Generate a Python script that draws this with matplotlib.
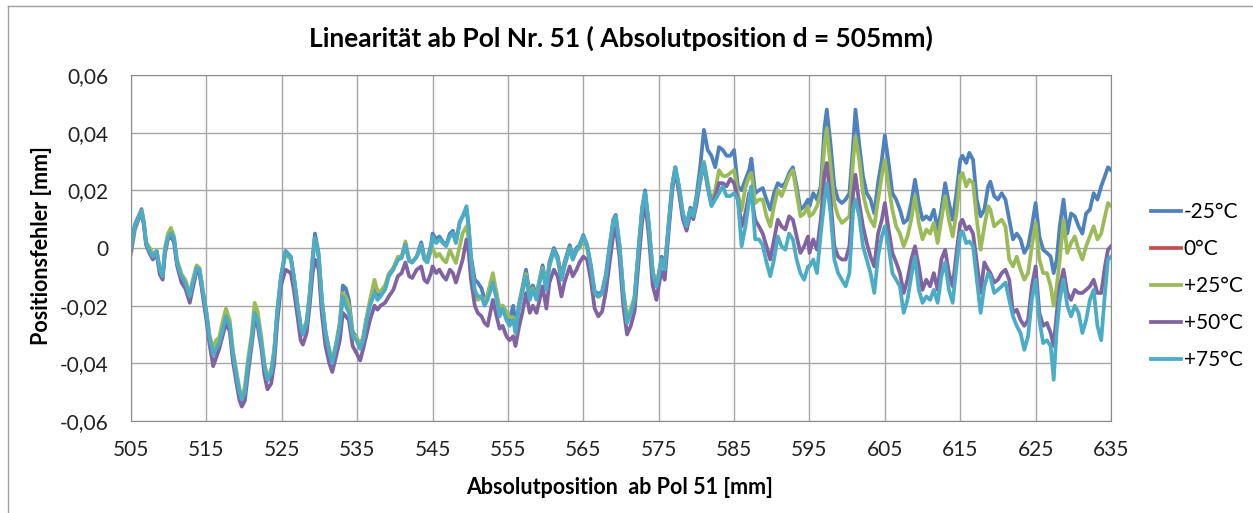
import matplotlib
matplotlib.use('Agg')
import matplotlib.pyplot as plt
from matplotlib.ticker import FuncFormatter, MultipleLocator
from matplotlib.lines import Line2D

plt.rcParams['font.family'] = ['Lato', 'DejaVu Sans']

# position along the scale [mm]
pos = [505.0, 505.5, 506.0, 506.4, 506.7, 507.0, 507.5, 507.9, 508.4, 508.8,
       509.2, 509.5, 509.9, 510.3, 510.7, 511.1, 511.7, 512.2, 512.8, 513.2,
       513.7, 514.1, 514.5, 515.0, 515.4, 515.9, 516.3, 516.7, 517.2, 517.6,
       518.1, 518.5, 519.0, 519.4, 519.7, 520.1, 520.5, 521.0, 521.4, 521.8,
       522.3, 522.7, 523.1, 523.6, 524.0, 524.4, 524.9, 525.5, 526.2, 526.6,
       527.1, 527.5, 527.8, 528.3, 528.7, 529.1, 529.4, 529.9, 530.3, 530.8,
       531.3, 531.7, 532.2, 532.7, 533.1, 533.5, 533.9, 534.4, 534.9, 535.4,
       535.8, 536.2, 536.7, 537.3, 537.7, 538.1, 538.7, 539.2, 539.8, 540.4,
       540.9, 541.4, 541.9, 542.3, 542.9, 543.5, 543.9, 544.3, 544.8, 545.0,
       545.5, 545.9, 546.4, 546.8, 547.3, 547.7, 548.1, 548.6, 549.0, 549.5,
       549.8, 550.1, 550.6, 551.0, 551.5, 551.9, 552.3, 553.0, 553.5, 553.9,
       554.3, 554.8, 555.2, 555.7, 556.0, 556.5, 556.9, 557.4, 557.9, 558.3,
       558.8, 559.2, 559.6, 560.1, 560.5, 561.1, 561.6, 562.1, 562.5, 563.2,
       563.6, 564.1, 564.5, 565.0, 565.5, 566.0, 566.5, 567.0, 567.5, 568.0,
       568.5, 569.0, 569.3, 569.8, 570.3, 570.8, 571.3, 571.8, 572.3, 572.8,
       573.2, 573.7, 574.2, 574.7, 575.0, 575.4, 575.8, 576.3, 576.8, 577.2,
       577.7, 578.2, 578.7, 579.2, 579.6, 580.0, 580.5, 581.0, 581.5, 582.0,
       582.5, 583.0, 583.5, 584.0, 584.5, 585.0, 585.5, 586.0, 586.5, 587.0,
       587.3, 587.8, 588.3, 588.8, 589.3, 589.8, 590.3, 590.8, 591.3, 591.8,
       592.3, 592.8, 593.3, 593.8, 594.3, 594.8, 595.0, 595.5, 596.0, 596.5,
       597.0, 597.3, 597.8, 598.3, 598.8, 599.3, 599.8, 600.3, 600.8, 601.1,
       601.6, 602.1, 602.6, 603.1, 603.6, 604.1, 604.6, 605.0, 605.5, 606.0,
       606.5, 607.0, 607.5, 608.0, 608.5, 609.0, 609.5, 610.0, 610.5, 611.0,
       611.5, 612.0, 612.5, 613.0, 613.5, 614.0, 614.5, 615.0, 615.3, 615.8,
       616.2, 616.7, 617.2, 617.7, 618.2, 618.7, 619.0, 619.5, 620.0, 620.5,
       621.0, 621.5, 622.0, 622.5, 623.0, 623.5, 624.0, 624.5, 625.0, 625.5,
       626.0, 626.5, 627.0, 627.4, 627.8, 628.2, 628.7, 629.2, 629.7, 630.2,
       630.7, 631.2, 631.7, 632.2, 632.7, 633.2, 633.7, 634.2, 634.6, 635.0]

err_m25 = [0.000, 0.008, 0.011, 0.0135, 0.009, 0.002, -0.001, -0.003, -0.001, -0.007,
           -0.010, -0.001, 0.004, 0.005, 0.003, -0.005, -0.010, -0.012, -0.017, -0.012,
           -0.007, -0.008, -0.015, -0.023, -0.031, -0.037, -0.035, -0.033, -0.028, -0.024,
           -0.027, -0.036, -0.045, -0.050, -0.053, -0.050, -0.041, -0.032, -0.023, -0.025,
           -0.033, -0.041, -0.046, -0.043, -0.036, -0.022, -0.010, -0.001, -0.003, -0.010,
           -0.020, -0.027, -0.030, -0.026, -0.016, -0.003, 0.005, -0.002, -0.017, -0.029,
           -0.036, -0.040, -0.034, -0.026, -0.013, -0.014, -0.018, -0.029, -0.031, -0.034,
           -0.031, -0.025, -0.019, -0.014, -0.017, -0.016, -0.014, -0.009, -0.007, -0.004,
           -0.003, 0.001, -0.004, -0.005, -0.003, 0.002, -0.003, -0.004, 0.001, 0.005,
           0.003, 0.004, 0.002, 0.001, 0.005, 0.006, 0.002, 0.009, 0.011, 0.0135,
           0.007, -0.003, -0.011, -0.012, -0.014, -0.018, -0.017, -0.010, -0.016, -0.022,
           -0.020, -0.023, -0.025, -0.020, -0.027, -0.019, -0.014, -0.0075, -0.016, -0.013,
           -0.016, -0.011, -0.006, -0.013, -0.005, 0.000, -0.003, -0.010, -0.005, 0.001,
           -0.003, 0.000, 0.001, 0.0045, 0.001, -0.006, -0.015, -0.016, -0.015, -0.009,
           0.001, 0.010, 0.0115, 0.001, -0.015, -0.025, -0.022, -0.017, -0.001, 0.014,
           0.020, 0.008, -0.008, -0.013, -0.009, -0.003, -0.007, 0.008, 0.022, 0.028,
           0.021, 0.012, 0.008, 0.014, 0.012, 0.018, 0.028, 0.041, 0.034, 0.032,
           0.028, 0.035, 0.034, 0.032, 0.032, 0.034, 0.0214, 0.020, 0.0237, 0.027,
           0.031, 0.019, 0.020, 0.0208, 0.0168, 0.0133, 0.019, 0.0225, 0.0214, 0.0225,
           0.026, 0.028, 0.0214, 0.0133, 0.0145, 0.0168, 0.0145, 0.019, 0.0168, 0.0214,
           0.042, 0.048, 0.036, 0.0214, 0.0168, 0.0156, 0.0168, 0.019, 0.036, 0.048,
           0.036, 0.0249, 0.019, 0.0168, 0.012, 0.0225, 0.0306, 0.039, 0.0295, 0.019,
           0.0168, 0.0133, 0.0087, 0.0098, 0.0156, 0.0237, 0.0156, 0.0098, 0.011, 0.0098,
           0.0133, 0.0064, 0.0133, 0.0225, 0.0156, 0.0098, 0.019, 0.0306, 0.032, 0.0295,
           0.033, 0.0306, 0.0168, 0.011, 0.0133, 0.0214, 0.023, 0.018, 0.0168, 0.019,
           0.0168, 0.0098, 0.003, 0.005, 0.003, -0.0017, 0.0006, 0.0075, 0.0156, 0.004,
           -0.0006, -0.0017, -0.003, -0.0087, -0.004, 0.0075, 0.0168, 0.005, 0.012, 0.011,
           0.0075, 0.005, 0.012, 0.0133, 0.019, 0.0168, 0.0214, 0.025, 0.028, 0.027]

err_p25 = [-0.002, 0.006, 0.010, 0.013, 0.009, 0.002, 0.000, -0.002, -0.001, -0.007,
           -0.009, 0.000, 0.005, 0.007, 0.004, -0.004, -0.009, -0.011, -0.016, -0.011,
           -0.006, -0.007, -0.014, -0.022, -0.030, -0.035, -0.032, -0.031, -0.025, -0.021,
           -0.025, -0.035, -0.043, -0.049, -0.052, -0.048, -0.039, -0.030, -0.019, -0.022,
           -0.031, -0.040, -0.045, -0.042, -0.035, -0.022, -0.010, -0.002, -0.004, -0.010,
           -0.020, -0.027, -0.029, -0.025, -0.016, -0.004, 0.003, -0.003, -0.018, -0.029,
           -0.035, -0.039, -0.033, -0.026, -0.0156, -0.017, -0.020, -0.030, -0.031, -0.034,
           -0.031, -0.025, -0.018, -0.011, -0.015, -0.015, -0.013, -0.009, -0.007, -0.003,
           -0.003, 0.0023, -0.004, -0.005, -0.003, 0.000, -0.003, -0.005, -0.001, 0.000,
           -0.003, -0.002, -0.004, -0.005, -0.0006, -0.003, -0.0052, 0.0006, 0.0052, 0.0075,
           0.003, -0.004, -0.0156, -0.018, -0.017, -0.019, -0.016, -0.0087, -0.016, -0.021,
           -0.020, -0.022, -0.024, -0.024, -0.028, -0.020, -0.015, -0.009, -0.017, -0.014,
           -0.017, -0.011, -0.007, -0.014, -0.006, -0.001, -0.004, -0.011, -0.006, 0.000,
           -0.004, -0.001, 0.000, 0.003, 0.000, -0.007, -0.016, -0.017, -0.016, -0.010,
           0.000, 0.009, 0.010, 0.001, -0.015, -0.025, -0.021, -0.017, -0.002, 0.013,
           0.019, 0.008, -0.008, -0.013, -0.009, -0.004, -0.007, 0.007, 0.021, 0.028,
           0.021, 0.012, 0.007, 0.013, 0.011, 0.017, 0.024, 0.030, 0.023, 0.016,
           0.020, 0.027, 0.025, 0.025, 0.026, 0.027, 0.019, 0.013, 0.021, 0.025,
           0.026, 0.0156, 0.0168, 0.0168, 0.011, 0.0075, 0.0145, 0.0202, 0.018, 0.0214,
           0.025, 0.027, 0.019, 0.011, 0.012, 0.0145, 0.011, 0.012, 0.0145, 0.019,
           0.036, 0.0416, 0.028, 0.0156, 0.011, 0.0087, 0.0098, 0.011, 0.0306, 0.0387,
           0.0306, 0.019, 0.0133, 0.0098, 0.0075, 0.0168, 0.025, 0.0306, 0.0214, 0.0133,
           0.0075, 0.005, 0.0006, 0.004, 0.0098, 0.018, 0.0087, 0.003, 0.0064, 0.005,
           0.0087, 0.0017, 0.0098, 0.018, 0.0098, 0.004, 0.012, 0.025, 0.026, 0.0214,
           0.0237, 0.0225, 0.0098, -0.0006, 0.0075, 0.0145, 0.0133, 0.0075, 0.0087, 0.0098,
           0.0075, -0.004, -0.0064, -0.003, -0.0075, -0.011, -0.0087, 0.0006, 0.0087, -0.004,
           -0.0087, -0.0087, -0.0133, -0.020, -0.0133, -0.004, 0.0098, -0.0017, 0.0017, 0.004,
           -0.0006, -0.004, 0.0006, 0.004, 0.0075, 0.003, 0.005, 0.011, 0.0156, 0.0145]

err_p50 = [-0.001, 0.007, 0.010, 0.012, 0.008, 0.001, -0.002, -0.004, -0.002, -0.009,
           -0.011, -0.002, 0.003, 0.004, 0.002, -0.006, -0.012, -0.014, -0.019, -0.014,
           -0.008, -0.009, -0.016, -0.025, -0.033, -0.041, -0.038, -0.035, -0.030, -0.026,
           -0.029, -0.039, -0.047, -0.053, -0.055, -0.053, -0.044, -0.034, -0.025, -0.027,
           -0.035, -0.044, -0.049, -0.047, -0.040, -0.026, -0.013, -0.0075, -0.0087, -0.0145,
           -0.024, -0.032, -0.0335, -0.0295, -0.020, -0.0087, -0.004, -0.0075, -0.0225, -0.034,
           -0.040, -0.043, -0.0376, -0.032, -0.0225, -0.0237, -0.025, -0.034, -0.0364, -0.039,
           -0.035, -0.0306, -0.025, -0.020, -0.0214, -0.020, -0.019, -0.0168, -0.0145, -0.0098,
           -0.0087, -0.005, -0.0098, -0.0104, -0.0075, -0.0064, -0.011, -0.012, -0.0087, -0.0064,
           -0.0087, -0.0075, -0.0098, -0.011, -0.0075, -0.0087, -0.012, -0.0075, -0.004, 0.003,
           -0.0017, -0.011, -0.020, -0.0225, -0.0237, -0.026, -0.027, -0.018, -0.0237, -0.028,
           -0.027, -0.0306, -0.032, -0.0306, -0.034, -0.027, -0.0225, -0.0156, -0.0225, -0.020,
           -0.0225, -0.018, -0.0133, -0.021, -0.012, -0.0075, -0.0098, -0.0168, -0.012, -0.0064,
           -0.0098, -0.0075, -0.005, -0.003, -0.004, -0.011, -0.021, -0.0237, -0.022, -0.015,
           -0.005, 0.005, 0.007, -0.003, -0.020, -0.030, -0.027, -0.022, -0.006, 0.009,
           0.016, 0.004, -0.013, -0.018, -0.013, -0.008, -0.011, 0.005, 0.020, 0.027,
           0.019, 0.010, 0.006, 0.012, 0.010, 0.015, 0.023, 0.029, 0.021, 0.015,
           0.018, 0.0225, 0.0225, 0.0214, 0.024, 0.0225, 0.0168, 0.0075, 0.012, 0.019,
           0.018, 0.0098, 0.0075, 0.005, 0.0006, -0.004, 0.003, 0.0098, 0.0075, 0.0064,
           0.011, 0.0098, 0.004, -0.0017, 0.0006, 0.004, -0.0017, 0.003, -0.0006, 0.0098,
           0.026, 0.0295, 0.0168, 0.0006, -0.003, -0.004, -0.004, 0.0006, 0.019, 0.0254,
           0.0156, 0.0075, 0.0017, -0.003, -0.0064, 0.005, 0.0098, 0.0156, 0.0064, -0.0017,
           -0.005, -0.0087, -0.0156, -0.011, -0.004, 0.0006, -0.0064, -0.0145, -0.011, -0.0133,
           -0.0087, -0.0145, -0.004, -0.0006, -0.0087, -0.0133, -0.0017, 0.0087, 0.0098, 0.0064,
           0.0075, 0.005, -0.005, -0.0156, -0.005, -0.0075, -0.0087, -0.012, -0.011, -0.0087,
           -0.0075, -0.011, -0.0225, -0.0214, -0.025, -0.027, -0.025, -0.0133, -0.0064, -0.0225,
           -0.027, -0.026, -0.0295, -0.034, -0.0225, -0.0133, -0.0075, -0.0156, -0.018, -0.0145,
           -0.0156, -0.0156, -0.0145, -0.0133, -0.011, -0.0156, -0.0156, -0.0064, -0.0006, 0.0006]

err_p75 = [0.000, 0.0075, 0.0104, 0.0127, 0.0087, 0.0017, -0.0012, -0.003, -0.0012, -0.0075,
           -0.0098, -0.001, 0.0035, 0.0052, 0.0035, -0.005, -0.0098, -0.012, -0.0168, -0.012,
           -0.007, -0.0075, -0.0145, -0.0225, -0.0306, -0.037, -0.035, -0.033, -0.028, -0.0237,
           -0.027, -0.0364, -0.0445, -0.050, -0.0526, -0.050, -0.041, -0.032, -0.0225, -0.025,
           -0.033, -0.041, -0.0457, -0.0433, -0.0364, -0.0225, -0.0098, -0.0012, -0.0035, -0.0098,
           -0.020, -0.027, -0.030, -0.026, -0.0168, -0.004, 0.0035, -0.003, -0.018, -0.0295,
           -0.036, -0.040, -0.034, -0.027, -0.0168, -0.020, -0.0225, -0.0306, -0.032, -0.035,
           -0.032, -0.026, -0.020, -0.0156, -0.018, -0.0168, -0.0145, -0.0098, -0.0075, -0.004,
           -0.0035, 0.0012, -0.0046, -0.005, -0.003, 0.0012, -0.004, -0.005, 0.0006, 0.004,
           0.0017, 0.003, 0.0017, 0.0006, 0.004, 0.0052, 0.0017, 0.0087, 0.011, 0.0145,
           0.0075, -0.004, -0.0145, -0.0168, -0.0168, -0.020, -0.018, -0.012, -0.018, -0.0237,
           -0.021, -0.025, -0.027, -0.025, -0.0295, -0.020, -0.0156, -0.0098, -0.018, -0.0145,
           -0.018, -0.012, -0.0075, -0.0145, -0.0064, -0.0006, -0.004, -0.011, -0.0064, 0.000,
           -0.004, -0.0006, 0.0006, 0.004, 0.001, -0.0064, -0.0156, -0.0168, -0.0156, -0.0098,
           0.0006, 0.0098, 0.011, 0.0006, -0.0156, -0.026, -0.0225, -0.018, -0.0017, 0.0133,
           0.019, 0.0075, -0.0087, -0.0133, -0.0098, -0.004, -0.0075, 0.0075, 0.0214, 0.028,
           0.0214, 0.012, 0.0075, 0.0133, 0.011, 0.0168, 0.0237, 0.0295, 0.0214, 0.0145,
           0.0168, 0.019, 0.0214, 0.018, 0.018, 0.019, 0.0168, 0.0006, 0.0075, 0.0168,
           0.0214, 0.003, 0.003, 0.001, -0.005, -0.0098, -0.004, 0.004, 0.0006, -0.0006,
           0.005, 0.003, -0.004, -0.0087, -0.011, -0.0064, -0.0064, -0.004, -0.0087, 0.005,
           0.0168, 0.0225, 0.012, -0.004, -0.0087, -0.011, -0.0133, -0.0087, 0.0133, 0.0168,
           0.011, 0.0006, -0.004, -0.0087, -0.0156, -0.003, 0.004, 0.0075, 0.0006, -0.0087,
           -0.011, -0.0133, -0.0225, -0.018, -0.0098, -0.003, -0.0145, -0.019, -0.0168, -0.018,
           -0.0145, -0.019, -0.0098, -0.005, -0.0145, -0.019, -0.0064, 0.005, 0.0058, 0.0017,
           0.0023, 0.0006, -0.011, -0.0225, -0.0133, -0.0087, -0.0098, -0.0156, -0.0145, -0.0133,
           -0.012, -0.018, -0.0237, -0.027, -0.0295, -0.0353, -0.0306, -0.018, -0.011, -0.025,
           -0.033, -0.032, -0.034, -0.0457, -0.0283, -0.018, -0.011, -0.020, -0.0237, -0.020,
           -0.0225, -0.0295, -0.025, -0.018, -0.0145, -0.027, -0.032, -0.0156, -0.004, -0.003]

labels = ['-25°C', '0°C', '+25°C', '+50°C', '+75°C']
colors = ['#4F81BD', '#C0504D', '#9BBB59', '#8064A2', '#4BACC6']
x_ticks = list(range(505, 636, 10))

fig = plt.figure(figsize=(12.53, 5.13), dpi=100)
ax = fig.add_axes([131 / 1253, 1 - 421 / 513, 980 / 1253, 346 / 513])

# 0°C has no visible trace in the chart, it only shows up in the legend
series = [err_m25, [], err_p25, err_p50, err_p75]
for lab, col, vals in zip(labels, colors, series):
    ax.plot(pos[:len(vals)], vals, color=col, lw=2.7, label=lab,
            solid_joinstyle='round')

ax.set_xlim(505, 635)
ax.set_ylim(-0.06, 0.06)
ax.set_xticks(x_ticks)
ax.yaxis.set_major_locator(MultipleLocator(0.02))


def comma_fmt(v, _):
    if abs(v) < 1e-9:
        return '0'
    return f'{v:.2f}'.replace('.', ',')


ax.yaxis.set_major_formatter(FuncFormatter(comma_fmt))
ax.grid(True, color='#a6a6a6', lw=1)
ax.set_axisbelow(True)
for s in ax.spines.values():
    s.set_color('#8c8c8c')
ax.tick_params(length=0, labelsize=15, colors='#222222')
ax.tick_params(axis='y', pad=16)
ax.tick_params(axis='x', pad=14)

fig.text(0.5 * (131 + 1111) / 1253, 1 - 38 / 513,
         'Linearität ab Pol Nr. 51 ( Absolutposition d = 505mm)',
         ha='center', va='center', fontsize=19, fontweight='bold')
fig.text(620 / 1253, 1 - 487 / 513, 'Absolutposition  ab Pol 51 [mm]',
         ha='center', va='center', fontsize=15.5, fontweight='bold')
fig.text(42 / 1253, 1 - 246 / 513, 'Positionsfehler [mm]', rotation=90,
         ha='center', va='center', fontsize=15.5, fontweight='bold')

ax.legend(loc='center left', bbox_to_anchor=(1151 / 1253, 1 - 286 / 513),
          bbox_transform=fig.transFigure, frameon=False, fontsize=15,
          handlelength=1.45, handletextpad=0.12, labelspacing=0.82,
          borderpad=0, borderaxespad=0)

# outer chart frame (top and left edges visible in the original)
fig.add_artist(Line2D([8 / 1253, 8 / 1253], [0, 1 - 6 / 513], color='#a0a0a0',
                      lw=1, transform=fig.transFigure))
fig.add_artist(Line2D([8 / 1253, 1], [1 - 6 / 513, 1 - 6 / 513], color='#a0a0a0',
                      lw=1, transform=fig.transFigure))

fig.savefig('out.png', dpi=100)
